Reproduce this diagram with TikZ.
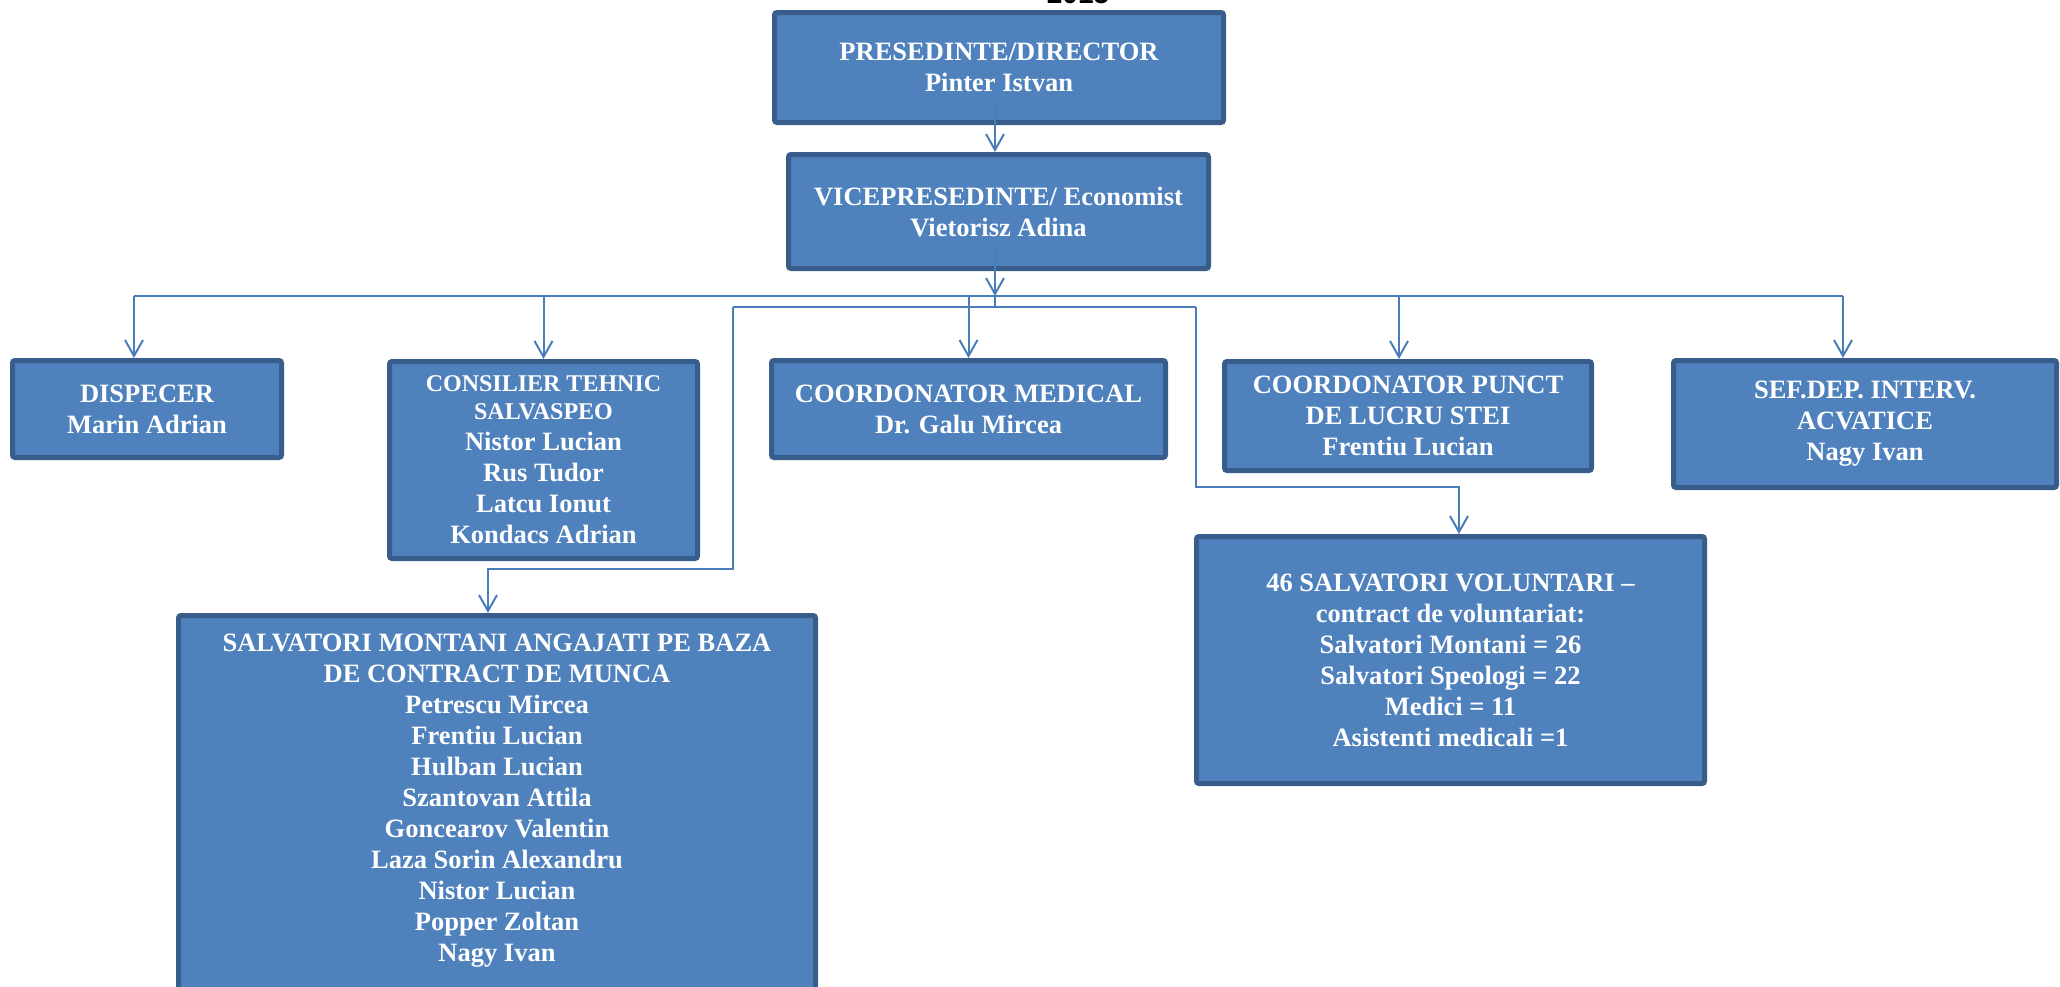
\documentclass[tikz,border=0pt]{standalone}
\usepackage{fontspec}
\setmainfont{Liberation Serif}
\newfontfamily\sansb{Liberation Sans}
\usetikzlibrary{arrows.meta}
\definecolor{boxfill}{HTML}{4F81BD}
\definecolor{boxline}{HTML}{385D8A}
\definecolor{conncol}{HTML}{4A7EBB}
\begin{document}
\begin{tikzpicture}[x=1pt,y=-1pt,
  box/.style={draw=boxline, line width=5pt, fill=boxfill, rounded corners=2.5pt,
    text=white, align=center, inner sep=0pt,
    font=\fontsize{26.5}{31}\selectfont\bfseries},
  txt/.style={text=white, align=center, inner sep=0pt,
    font=\fontsize{26.5}{31}\selectfont\bfseries},
  conn/.style={draw=conncol, line width=2pt},
  arr/.style={conn, -{Straight Barb[length=16pt,width=18pt]}}]
\useasboundingbox (0,0) rectangle (2060,986);

\node[font=\sansb\bfseries\fontsize{28}{30}\selectfont, anchor=base] (yr) at (1078,3.5) {2015};

\node[box, minimum width=449, minimum height=110] (pres) at (999,67.5)
  {PRESEDINTE/DIRECTOR\\Pinter Istvan};
\node[box, minimum width=420, minimum height=114] (vice) at (998.5,211.5)
  {VICEPRESEDINTE/ Economist\\Vietorisz Adina};
\node[box, minimum width=269, minimum height=97] (disp) at (147,409)
  {DISPECER\\Marin Adrian};
\node[box, minimum width=308, minimum height=197] (cons) at (543.5,460)
  {{\fontsize{24}{27}\selectfont CONSILIER TEHNIC}\\[-3pt]{\fontsize{24}{27}\selectfont SALVASPEO}\\Nistor Lucian\\Rus Tudor\\Latcu Ionut\\Kondacs Adrian};
\node[box, minimum width=394, minimum height=97] (med) at (968.5,409)
  {COORDONATOR MEDICAL\\Dr. Galu Mircea};
\node[box, minimum width=367, minimum height=109] (punct) at (1408,416)
  {COORDONATOR PUNCT\\DE LUCRU STEI\\Frentiu Lucian};
\node[box, minimum width=383, minimum height=127] (sef) at (1865,424)
  {SEF.DEP. INTERV.\\ACVATICE\\Nagy Ivan};
\node[box, minimum width=508, minimum height=247] (vol) at (1450.5,660)
  {46 SALVATORI VOLUNTARI –\\contract de voluntariat:\\Salvatori Montani = 26\\Salvatori Speologi = 22\\Medici = 11\\Asistenti medicali =1};
\node[box, minimum width=637, minimum height=420, anchor=north] (salv) at (497,613) {};
\node[txt, anchor=north] (salvtxt) at (497,634)
  {SALVATORI MONTANI ANGAJATI PE BAZA\\DE CONTRACT DE MUNCA\\Petrescu Mircea\\Frentiu Lucian\\Hulban Lucian\\Szantovan Attila\\Goncearov Valentin\\Laza Sorin Alexandru\\Nistor Lucian\\Popper Zoltan\\Nagy Ivan};

\coordinate (h1L) at (134,296);
\coordinate (h1R) at (1843,296);
\coordinate (vj) at (995,296);
\coordinate (vj2) at (995,307);
\coordinate (pj) at (1399,296);
\coordinate (h2L) at (733,307);
\coordinate (h2R) at (1196,307);
\coordinate (lb) at (733,569);
\coordinate (lb2) at (488,569);
\coordinate (rb) at (1196,487);
\coordinate (rb2) at (1459,487);

\draw[arr] (pres.south -| vj) ++(0,-22) -- (vice.north -| vj);
\draw[arr] (vice.south -| vj) ++(0,-24) -- (vj);
\draw[conn] (h1L) -- (h1R);
\draw[conn] (vj) -- (vj2);
\draw[arr] (h1L) -- (disp.north -| h1L);
\draw[arr] (cons.north |- h1L) -- (cons.north);
\draw[arr] (med.north |- h1L) -- (med.north);
\draw[arr] (pj) -- (punct.north -| pj);
\draw[arr] (h1R) -- (sef.north -| h1R);
\draw[conn] (h2L) -- (h2R);
\draw[arr] (h2L) -- (lb) -- (lb2) -- (salv.north -| lb2);
\draw[arr] (h2R) -- (rb) -- (rb2) -- (vol.north -| rb2);
\end{tikzpicture}
\end{document}
